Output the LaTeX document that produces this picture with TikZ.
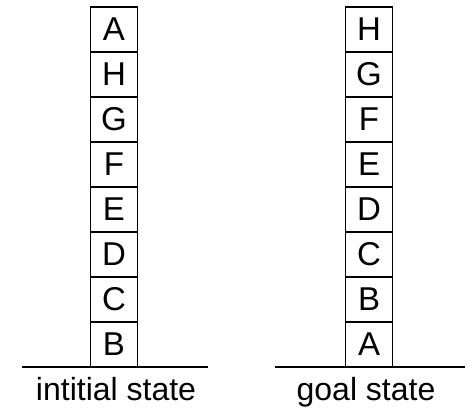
\documentclass[tikz,border=0pt]{standalone}
\usepackage{fontspec}
\setmainfont{Liberation Sans}
\begin{document}
\begin{tikzpicture}[x=1pt,y=1pt,
  blockbox/.style={draw, line width=1.4pt, minimum width=47pt, minimum height=45pt, inner sep=0pt, font=\fontsize{33}{33}\selectfont},
  ground/.style={line width=1.8pt},
  statelabel/.style={anchor=base, inner sep=0pt, font=\fontsize{32}{32}\selectfont}]
\useasboundingbox (0,0) rectangle (470,-412);
% initial stack
\foreach \l [count=\i from 0] in {A,H,G,F,E,D,C,B}
  \node[blockbox] (L\l) at (114,-29.5-45*\i) {\l};
% goal stack
\foreach \l [count=\i from 0] in {H,G,F,E,D,C,B,A}
  \node[blockbox] (R\l) at (369,-29.5-45*\i) {\l};
\coordinate (g1a) at (22,-367);
\coordinate (g1b) at (208,-367);
\coordinate (g2a) at (275,-367);
\coordinate (g2b) at (465,-367);
\draw[ground] (g1a) -- (g1b);
\draw[ground] (g2a) -- (g2b);
\node[statelabel] (lab1) at (116,-400) {intitial state};
\node[statelabel] (lab2) at (366,-400) {goal state};
\end{tikzpicture}
\end{document}
